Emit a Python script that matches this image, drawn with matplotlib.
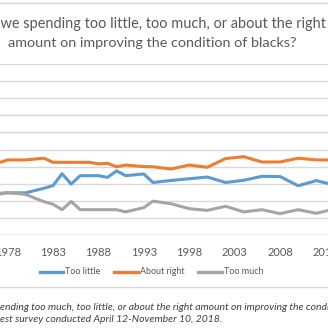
import matplotlib
matplotlib.use("Agg")
import matplotlib.pyplot as plt
from matplotlib.lines import Line2D

# ---- data (percent) ----
years = [1977, 1978, 1980, 1982, 1983, 1984, 1985, 1986, 1987, 1988, 1989, 1990,
         1991, 1993, 1994, 1996, 1998, 2000, 2002, 2004, 2006, 2008, 2010, 2012, 2014]
too_little = [24.4, 24.6, 24.7, 27.3, 28.9, 35.8, 29.8, 34.7, 34.7, 34.7, 33.7, 37.5,
              34.7, 35.7, 30.7, 31.9, 32.9, 33.9, 30.7, 32.0, 34.3, 34.2, 28.8, 31.8, 29.2]
about_right = [42.2, 43.9, 43.9, 44.9, 42.5, 42.5, 42.5, 42.5, 42.5, 41.6, 41.9, 39.9,
               40.9, 40.0, 39.9, 38.6, 40.9, 39.6, 44.7, 45.8, 42.7, 42.7, 44.9, 43.9, 43.9]
too_much = [23.7, 24.9, 23.7, 19.5, 18.0, 14.8, 19.6, 14.8, 14.8, 14.8, 14.8, 14.8,
            13.5, 16.0, 19.8, 18.3, 15.4, 14.4, 16.8, 13.5, 14.8, 12.5, 14.8, 12.7, 15.2]
series_names = ["Too little", "About right", "Too much"]
colors = ["#5B9BD5", "#ED7D31", "#A5A5A5"]
tick_years = [1978, 1983, 1988, 1993, 1998, 2003, 2008, 2013]
title_prefix = "Are "
title_lines = ["we spending too little, too much, or about the right",
               "amount on improving the condition of blacks?"]
caption_lines = ["ending too much, too little, or about the right amount on improving the condition of blacks.",
                 "est survey conducted April 12-November 10, 2018."]

W = H = 328
DPI = 100
fig = plt.figure(figsize=(W / DPI, H / DPI), dpi=DPI)
plt.rcParams['font.family'] = ['Lato', 'DejaVu Sans']

# axes geometry in pixels (top-origin)
x0_year, x1_year = 1972, 2019
px_per_year = 9.08
x_at_1983 = 53.0
left_px = x_at_1983 + (x0_year - 1983) * px_per_year
right_px = x_at_1983 + (x1_year - 1983) * px_per_year
top_px, bot_px = 64.0, 235.0
ax = fig.add_axes([left_px / W, 1 - bot_px / H, (right_px - left_px) / W, (bot_px - top_px) / H])
ax.set_xlim(x0_year, x1_year)
ax.set_ylim(0, 100)
ax.set_yticks(range(0, 101, 10))
ax.yaxis.grid(True, color="#d9d9d9", lw=1.0)
ax.set_axisbelow(True)
for s in ax.spines.values():
    s.set_visible(False)
ax.axhline(0, color="#bfbfbf", lw=1.0, zorder=1)
ax.tick_params(axis='y', left=False, labelleft=False)
ax.set_xticks(tick_years)
ax.set_xticklabels([str(y) for y in tick_years], color="#595959", fontsize=8)
ax.tick_params(axis='x', length=0, pad=9)

for vals, c in zip([too_little, about_right, too_much], colors):
    ax.plot(years, vals, color=c, lw=2.2, solid_joinstyle='round', zorder=3)

renderer = fig.canvas.get_renderer()

def fit(t, target):
    w = t.get_window_extent(renderer).width
    t.set_fontsize(t.get_fontsize() * target / w)

def fx(px):
    return px / W

def fy(py):
    return 1 - py / H

# title
t2 = fig.text(fx(7.5), fy(46.7), title_lines[1], ha='left', va='baseline', color="#595959", fontsize=11)
fit(t2, 289)
t1 = fig.text(fx(325.5), fy(28.3), title_lines[0], ha='right', va='baseline', color="#595959",
              fontsize=t2.get_fontsize())
fit(t1, 324)
t1.set_text(title_prefix + title_lines[0])

# border lines
fig.add_artist(Line2D([0, 1], [fy(3.3), fy(3.3)], color="#d9d9d9", lw=1.0))
fig.add_artist(Line2D([0, 1], [fy(287), fy(287)], color="#d9d9d9", lw=1.0))

# legend
leg_items = [(40, 63, 65, 36), (114, 138, 140, 45), (198, 222, 224, 40)]
for (l0, l1, tx, tw), name, c in zip(leg_items, series_names, colors):
    fig.add_artist(Line2D([fx(l0), fx(l1)], [fy(271.5), fy(271.5)], color=c, lw=2.4))
    tt = fig.text(fx(tx), fy(274.3), name, ha='left', va='baseline', color="#595959", fontsize=8)
    fit(tt, tw)

# caption
c2 = fig.text(fx(0.5), fy(322.3), caption_lines[1], ha='left', va='baseline', color="#404040",
              fontsize=8, style='italic')
fit(c2, 223)
c1 = fig.text(fx(0.5), fy(310), caption_lines[0], ha='left', va='baseline', color="#404040",
              fontsize=c2.get_fontsize(), style='italic')

fig.savefig("out.png", dpi=DPI)
